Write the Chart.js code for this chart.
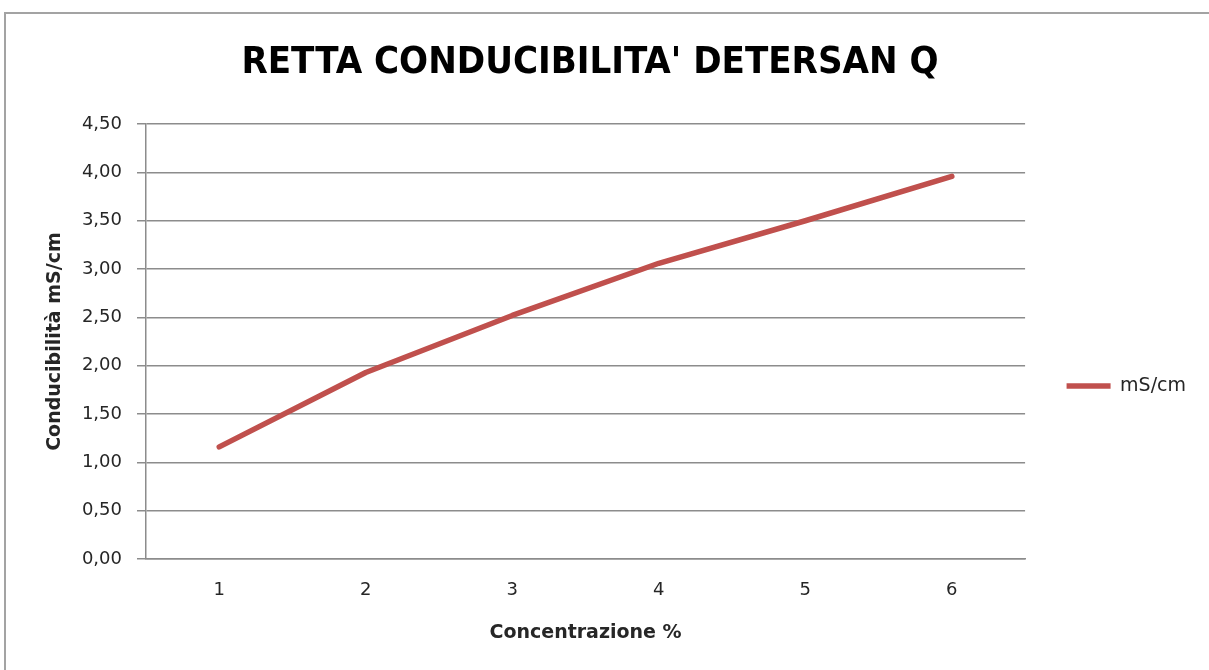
<!DOCTYPE html>
<html>
<head>
<meta charset="utf-8">
<script src="https://cdn.jsdelivr.net/npm/chart.js@4.4.1/dist/chart.umd.min.js"></script>
<style>
  html, body { margin: 0; padding: 0; background: #fff; overflow: hidden; }
  #wrap { position: relative; width: 1209px; height: 670px; overflow: hidden; }
  #frame { position: absolute; left: 4px; top: 12px; width: 1300px; height: 800px; border: 2px solid #a3a3a3; box-sizing: border-box; }
  /* canvas spostato a sinistra per centrare il titolo come in Excel */
  #grafico { position: absolute; left: -16px; top: 0; }
</style>
</head>
<body>
<div id="wrap">
  <div id="frame"></div>
  <canvas id="grafico" width="1225" height="670"></canvas>
</div>
<script>
// dati
const concentrazioni = ['1', '2', '3', '4', '5', '6'];
const conducibilita = [1.16, 1.93, 2.52, 3.06, 3.50, 3.96];
const nomeSerie = 'mS/cm';
const titolo = "RETTA CONDUCIBILITA' DETERSAN Q";
const titoloX = 'Concentrazione %';
const titoloY = 'Conducibilità mS/cm';

const grigio = '#8c8c8c';
const testo = '#262626';

document.addEventListener('DOMContentLoaded', () => {
    initChart();
});

function initChart() {
    const ctx = document.getElementById('grafico').getContext('2d');
    const chart = new Chart(ctx, {
        type: 'line',
        data: {
            labels: concentrazioni,
            datasets: [{
                label: nomeSerie,
                data: conducibilita,
                borderColor: '#C0504D',
                backgroundColor: '#C0504D',
                borderWidth: 5.5,
                borderCapStyle: 'round',
                borderJoinStyle: 'round',
                pointRadius: 0,
                pointStyle: 'line',
                tension: 0
            }]
        },
        options: {
            responsive: false,
            animation: false,
            layout: {
                padding: { left: 0, right: 13, top: 0, bottom: 0 }
            },
            plugins: {
                title: {
                    display: true,
                    text: titolo,
                    color: '#000',
                    font: { family: "'Liberation Sans Narrow', 'DejaVu Sans Condensed', sans-serif", size: 38, weight: 'bold', lineHeight: 1.2 },
                    padding: { top: 40, bottom: 38.5 }
                },
                legend: {
                    position: 'right',
                    title: {
                        display: true,
                        text: ' ',
                        font: { size: 12, lineHeight: 1.2 },
                        padding: { top: 0, bottom: 87.6 }
                    },
                    labels: {
                        usePointStyle: true,
                        pointStyleWidth: 44,
                        padding: 41.5,
                        color: testo,
                        font: { family: "'DejaVu Sans', sans-serif", size: 19 }
                    }
                },
                tooltip: { enabled: false }
            },
            scales: {
                x: {
                    offset: true,
                    grid: { display: false, drawTicks: false },
                    border: { display: true, color: grigio, width: 1.5 },
                    ticks: {
                        padding: 21,
                        color: testo,
                        font: { family: "'DejaVu Sans', sans-serif", size: 18 }
                    },
                    title: {
                        display: true,
                        text: titoloX,
                        color: testo,
                        font: { family: "'DejaVu Sans', sans-serif", size: 19, weight: 'bold', lineHeight: 1.2 },
                        padding: { top: 0, bottom: 25.6 }
                    },
                    afterFit: (axis) => { axis.height = 111; }
                },
                y: {
                    min: 0,
                    max: 4.5,
                    grid: { color: grigio, lineWidth: 1.5, drawTicks: true, tickLength: 9 },
                    border: { display: true, color: grigio, width: 1.5 },
                    ticks: {
                        stepSize: 0.5,
                        padding: 15,
                        color: testo,
                        font: { family: "'DejaVu Sans', sans-serif", size: 18 },
                        callback: (v) => v.toFixed(2).replace('.', ',')
                    },
                    title: {
                        display: true,
                        text: titoloY,
                        color: testo,
                        font: { family: "'DejaVu Sans', sans-serif", size: 19, weight: 'bold', lineHeight: 1.2 },
                        padding: { top: 59.6, bottom: 0 }
                    },
                    afterFit: (axis) => { axis.width = 162; }
                }
            }
        }
    });

    window.graficoConducibilita = chart;
}
</script>
</body>
</html>
